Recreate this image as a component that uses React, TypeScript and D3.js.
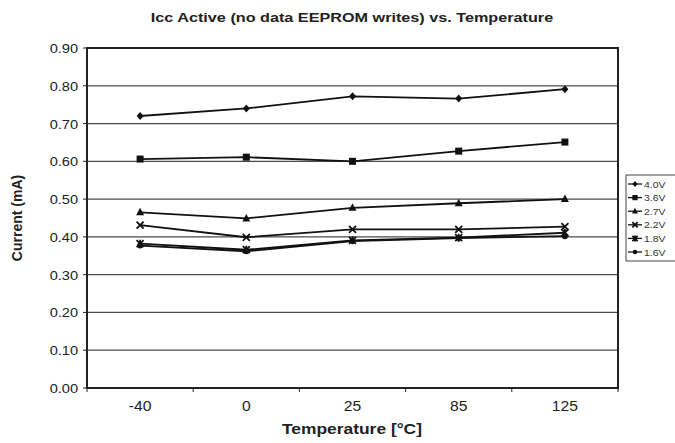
import React from 'react';
import * as d3 from 'd3';

const temperatures = ['-40', '0', '25', '85', '125'];
const yTicks = [0, 0.1, 0.2, 0.3, 0.4, 0.5, 0.6, 0.7, 0.8, 0.9];

const v40 = [0.72, 0.74, 0.772, 0.766, 0.791];
const v36 = [0.606, 0.611, 0.6, 0.627, 0.651];
const v27 = [0.465, 0.449, 0.477, 0.489, 0.5];
const v22 = [0.431, 0.399, 0.42, 0.42, 0.427];
const v18 = [0.382, 0.366, 0.391, 0.398, 0.411];
const v16 = [0.377, 0.362, 0.389, 0.397, 0.402];

const seriesNames = ['4.0V', '3.6V', '2.7V', '2.2V', '1.8V', '1.6V'];
const seriesValues = [v40, v36, v27, v22, v18, v16];
const markerTypes = ['diamond', 'square', 'triangle', 'x', 'star', 'circle'];

const W = 675;
const H = 443;
const margin = { top: 48, right: 57, bottom: 55, left: 87 };
const font = 'Liberation Sans, Arial, sans-serif';

// the scan is a bit wider than tall, so text is stretched sideways
const SText: React.FC<{
  x: number;
  y: number;
  sx?: number;
  size: number;
  bold?: boolean;
  anchor?: string;
  fill?: string;
  children: React.ReactNode;
}> = ({ x, y, sx = 1.15, size, bold, anchor = 'start', fill = '#222', children }) => (
  <text
    transform={`translate(${x},${y}) scale(${sx},1)`}
    textAnchor={anchor}
    fontFamily={font}
    fontWeight={bold ? 'bold' : 'normal'}
    fontSize={size}
    fill={fill}
  >
    {children}
  </text>
);

const Marker: React.FC<{ type: string; x: number; y: number; s?: number }> = ({ type, x, y, s = 1 }) => {
  const c = '#111';
  if (type === 'diamond')
    return <path d={`M${x},${y - 4 * s}L${x + 3.5 * s},${y}L${x},${y + 4 * s}L${x - 3.5 * s},${y}Z`} fill={c} />;
  if (type === 'square') return <rect x={x - 3.5 * s} y={y - 3.5 * s} width={7 * s} height={7 * s} fill={c} />;
  if (type === 'triangle')
    return <path d={`M${x},${y - 4.5 * s}L${x + 4 * s},${y + 3 * s}L${x - 4 * s},${y + 3 * s}Z`} fill={c} />;
  if (type === 'x')
    return (
      <path
        d={`M${x - 3.5 * s},${y - 3.5 * s}L${x + 3.5 * s},${y + 3.5 * s}M${x + 3.5 * s},${y - 3.5 * s}L${x - 3.5 * s},${y + 3.5 * s}`}
        stroke={c}
        strokeWidth={1.8}
      />
    );
  if (type === 'star')
    return (
      <path
        d={`M${x - 3.5 * s},${y - 3.5 * s}L${x + 3.5 * s},${y + 3.5 * s}M${x + 3.5 * s},${y - 3.5 * s}L${x - 3.5 * s},${y + 3.5 * s}M${x},${y - 4 * s}L${x},${y + 4 * s}`}
        stroke={c}
        strokeWidth={1.8}
      />
    );
  return <circle cx={x} cy={y} r={3 * s} fill={c} />;
};

const App: React.FC = () => {
  const innerW = W - margin.left - margin.right;
  const innerH = H - margin.top - margin.bottom;

  const x = d3.scaleBand().domain(temperatures).range([margin.left, margin.left + innerW]);
  const y = d3.scaleLinear().domain([0, 0.9]).range([margin.top + innerH, margin.top]);
  const cx = (t: string) => (x(t) as number) + x.bandwidth() / 2;

  const line = d3
    .line<number>()
    .x((_, i) => cx(temperatures[i]))
    .y((d) => y(d));

  const boundaries = temperatures.map((t) => x(t) as number).concat([margin.left + innerW]);

  const legendX = 626;
  const legendY = 175;
  const legendStep = 13.6;

  return (
    <svg width={W} height={H} style={{ position: 'absolute', left: 0, top: 0, background: '#fff' }}>
      <SText x={352} y={22} size={13.5} sx={1.2} bold anchor="middle">
        Icc Active (no data EEPROM writes) vs. Temperature
      </SText>

      {yTicks.map((t) => (
        <g key={t}>
          {t > 0 && t < 0.9 && (
            <line x1={margin.left} x2={margin.left + innerW} y1={y(t)} y2={y(t)} stroke="#4a4a4a" strokeWidth={1.2} />
          )}
          <line x1={margin.left - 4} x2={margin.left} y1={y(t)} y2={y(t)} stroke="#222" strokeWidth={1} />
          <SText x={78} y={y(t) + 5} size={13.5} sx={1.08} anchor="end">
            {t.toFixed(2)}
          </SText>
        </g>
      ))}

      <rect
        x={margin.left}
        y={margin.top}
        width={innerW}
        height={innerH}
        fill="none"
        stroke="#222"
        strokeWidth={2}
      />

      {boundaries.map((b, i) => (
        <line key={i} x1={b} x2={b} y1={margin.top + innerH} y2={margin.top + innerH + 4} stroke="#222" strokeWidth={1} />
      ))}
      {temperatures.map((t) => (
        <SText key={t} x={cx(t)} y={411} size={14} sx={1.12} anchor="middle">
          {t}
        </SText>
      ))}

      <SText x={352} y={434} size={14.5} sx={1.2} bold anchor="middle">
        Temperature [°C]
      </SText>
      <text
        transform={`translate(22, ${margin.top + innerH / 2}) rotate(-90)`}
        textAnchor="middle"
        fontFamily={font}
        fontWeight="bold"
        fontSize={14}
        fill="#222"
      >
        Current (mA)
      </text>

      {seriesValues.map((vals, si) => (
        <g key={seriesNames[si]}>
          <path d={line(vals) as string} fill="none" stroke="#111" strokeWidth={1.8} />
          {vals.map((v, i) => (
            <Marker key={i} type={markerTypes[si]} x={cx(temperatures[i])} y={y(v)} />
          ))}
        </g>
      ))}

      <rect x={legendX} y={legendY} width={60} height={86} fill="#fff" stroke="#444" strokeWidth={1} />
      {seriesNames.map((n, i) => {
        const ly = legendY + 9 + i * legendStep;
        return (
          <g key={n}>
            <line x1={legendX + 2} x2={legendX + 16} y1={ly} y2={ly} stroke="#111" strokeWidth={1.3} />
            <Marker type={markerTypes[i]} x={legendX + 9} y={ly} s={0.75} />
            <SText x={legendX + 18} y={ly + 3.5} size={9.5} sx={1.1} fill="#333">
              {n}
            </SText>
          </g>
        );
      })}
    </svg>
  );
};

export default App;
